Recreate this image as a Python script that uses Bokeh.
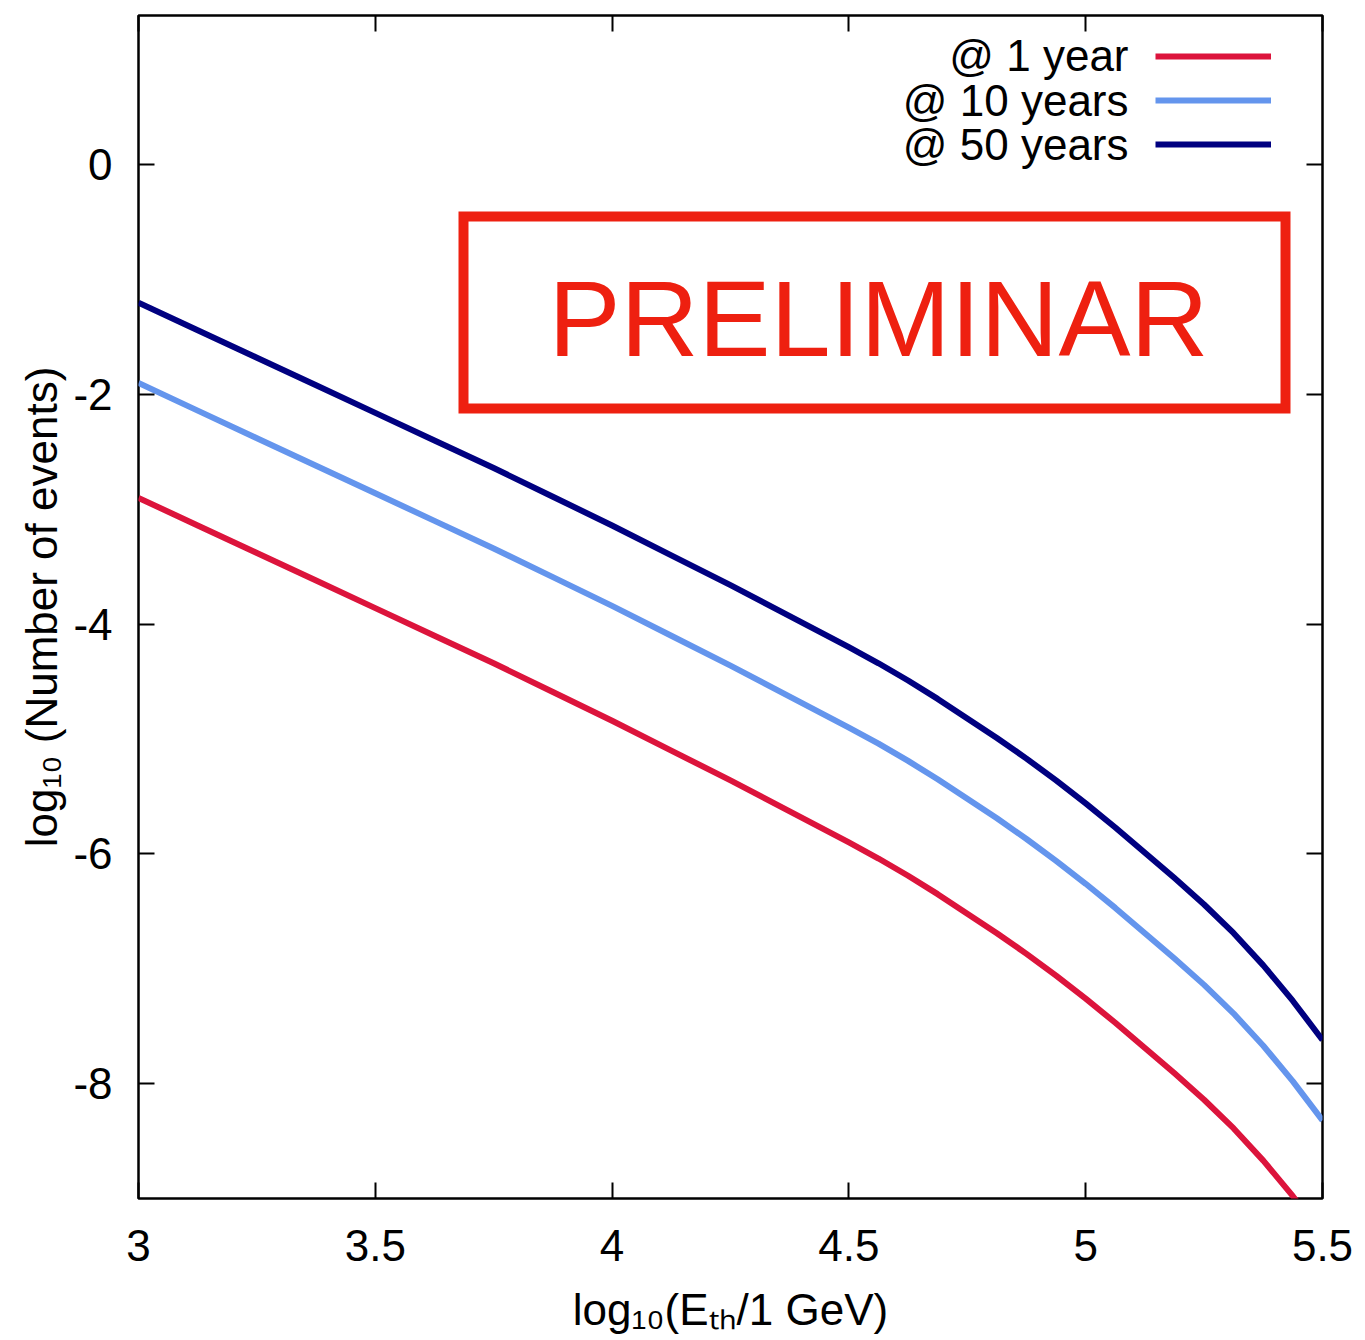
import numpy as np
from bokeh.plotting import figure
from bokeh.models import (Range1d, FixedTicker, LinearAxis, Label, BoxAnnotation,
                          Legend, LegendItem, CustomJSTickFormatter)
from bokeh.embed import file_html
from bokeh.resources import INLINE

# ---------------- data ----------------
log_eth = [3.000, 3.125, 3.250, 3.375, 3.500, 3.625, 3.750, 3.875, 4.000, 4.125, 4.250,
           4.375, 4.500, 4.5625, 4.625, 4.6875, 4.750, 4.8125, 4.875, 4.9375, 5.000,
           5.0625, 5.125, 5.1875, 5.250, 5.3125, 5.375, 5.4375, 5.500]
events_50yr = [-1.20, -1.44, -1.68, -1.92, -2.16, -2.40, -2.64, -2.89, -3.14, -3.40, -3.66,
               -3.93, -4.20, -4.34, -4.49, -4.65, -4.82, -4.99, -5.17, -5.36, -5.56,
               -5.77, -5.99, -6.21, -6.44, -6.69, -6.97, -7.28, -7.62]
events_10yr = [-1.90, -2.14, -2.38, -2.62, -2.86, -3.10, -3.34, -3.59, -3.84, -4.10, -4.36,
               -4.63, -4.90, -5.04, -5.19, -5.35, -5.52, -5.69, -5.87, -6.06, -6.26,
               -6.47, -6.69, -6.91, -7.14, -7.39, -7.67, -7.98, -8.32]
events_1yr = [-2.90, -3.14, -3.38, -3.62, -3.86, -4.10, -4.34, -4.59, -4.84, -5.10, -5.36,
              -5.63, -5.90, -6.04, -6.19, -6.35, -6.52, -6.69, -6.87, -7.06, -7.26,
              -7.47, -7.69, -7.91, -8.14, -8.39, -8.67, -8.98, -9.32]
series_labels = ["@ 1 year", "@ 10 years", "@ 50 years"]
series_colors = ["#DC143C", "#6495ED", "#000080"]
x_ticks = [3, 3.5, 4, 4.5, 5, 5.5]
y_ticks = [0, -2, -4, -6, -8]
x_title = "log\u2081\u2080(E\u209c\u2095/1 GeV)"
y_title = "log\u2081\u2080 (Number of events)"
stamp_text = "PRELIMINAR"

# ---------------- layout ----------------
W, H = 1365, 1340
L, R, T, B = 138, 1322, 15, 1198
X0, X1 = 3.0, 5.5
Y0, Y1 = -9.0, 1.3
FONT = "Liberation Sans"


def px_x(px):
    return X0 + (px - L) / (R - L) * (X1 - X0)


def px_y(py):
    return Y1 - (py - T) / (B - T) * (Y1 - Y0)


p = figure(width=W, height=H, x_range=Range1d(X0, X1), y_range=Range1d(Y0, Y1),
           output_backend="svg", toolbar_location=None,
           min_border_left=L, min_border_right=W - R, min_border_top=T, min_border_bottom=H - B)
p.grid.visible = False
p.background_fill_color = "white"
p.border_fill_color = "white"
p.outline_line_color = "black"
p.outline_line_width = 2.5
p.outline_line_alpha = 1.0

fmt = CustomJSTickFormatter(code="return tick.toString();")
blank = CustomJSTickFormatter(code="return '';")


def style_axis(ax, labels=True):
    ax.axis_line_color = None
    ax.major_tick_in = 16
    ax.major_tick_out = 0
    ax.minor_tick_in = 0
    ax.minor_tick_out = 0
    ax.major_tick_line_width = 2
    ax.major_tick_line_color = "black"
    ax.major_label_text_font = FONT
    ax.major_label_text_font_size = "44px"
    ax.major_label_text_color = "black"
    ax.formatter = fmt if labels else blank
    if not labels:
        ax.major_label_text_font_size = "0px"
        ax.major_label_standoff = 0


xax = p.xaxis[0]
xax.ticker = FixedTicker(ticks=x_ticks)
style_axis(xax)
xax.major_label_standoff = 31
xax.axis_label = x_title
xax.axis_label_text_font = FONT
xax.axis_label_text_font_size = "44px"
xax.axis_label_text_font_style = "normal"
xax.axis_label_text_color = "black"
xax.axis_label_standoff = 21

yax = p.yaxis[0]
yax.ticker = FixedTicker(ticks=y_ticks)
style_axis(yax)
yax.major_label_standoff = 26
yax.axis_label = y_title
yax.axis_label_text_font = FONT
yax.axis_label_text_font_size = "44px"
yax.axis_label_text_font_style = "normal"
yax.axis_label_text_color = "black"
yax.axis_label_standoff = 4

top_ax = LinearAxis(ticker=FixedTicker(ticks=x_ticks))
style_axis(top_ax, labels=False)
p.add_layout(top_ax, "above")
right_ax = LinearAxis(ticker=FixedTicker(ticks=y_ticks))
style_axis(right_ax, labels=False)
p.add_layout(right_ax, "right")

# ---------------- curves ----------------
renderers = []
for ys, col in zip([events_1yr, events_10yr, events_50yr], series_colors):
    r = p.line(log_eth, ys, line_color=col, line_width=6, line_join="round", line_cap="butt")
    renderers.append(r)

# ---------------- legend (text right-aligned, sample on the right) ----------------
leg_line_y = [55, 99.5, 144]
leg_h = leg_line_y[1] - leg_line_y[0]
leg_x0, leg_x1 = 1155, 1271
legend = Legend(items=[LegendItem(label=" ", renderers=[r]) for r in renderers],
                location=(leg_x0 - L, B - (leg_line_y[0] - leg_h / 2) - 3 * leg_h),
                glyph_width=leg_x1 - leg_x0, glyph_height=int(round(leg_h)),
                label_standoff=0, label_width=0, label_height=1, label_text_font_size="1px",
                padding=0, spacing=0, margin=0,
                border_line_alpha=0, background_fill_alpha=0)
p.add_layout(legend)

for txt, ly in zip(series_labels, leg_line_y):
    p.add_layout(Label(x=px_x(1128), y=px_y(ly), text=txt, text_align="right",
                       text_baseline="alphabetic", text_font=FONT, text_font_size="44px",
                       text_color="black"))

# ---------------- PRELIMINAR stamp ----------------
stamp_red = "#EE2010"
p.add_layout(BoxAnnotation(left=px_x(463), right=px_x(1285), top=px_y(216), bottom=px_y(408),
                           fill_alpha=0, line_color=stamp_red, line_alpha=1.0, line_width=10,
                           line_join="miter"))
p.add_layout(Label(x=px_x(878), y=px_y(318), text=stamp_text, text_align="center",
                   text_baseline="alphabetic", text_font=FONT, text_font_size="108px",
                   text_color=stamp_red))

open("out.html", "w").write(file_html(p, INLINE))
